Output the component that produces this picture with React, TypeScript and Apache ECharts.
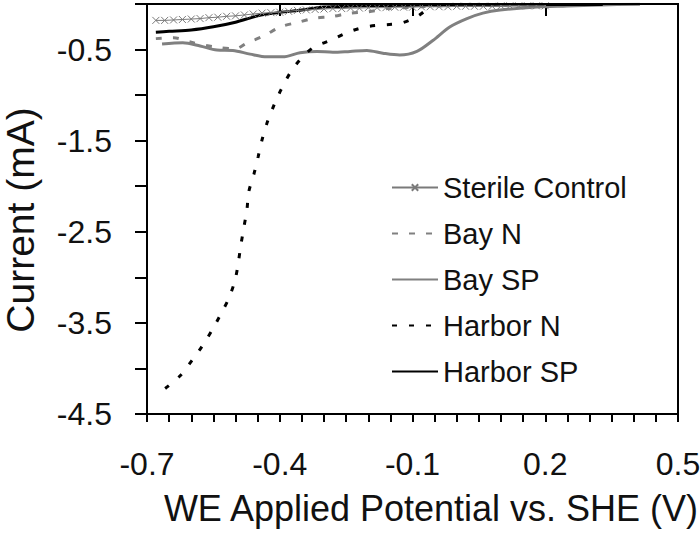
import React, { useEffect, useRef } from "react";
import * as echarts from "echarts";

const seriesNames = ["Sterile Control", "Bay N", "Bay SP", "Harbor N", "Harbor SP"];

const sterileV = [-0.68, -0.66, -0.64, -0.62, -0.6, -0.58, -0.56, -0.54, -0.52, -0.5, -0.48, -0.46, -0.44, -0.42, -0.4, -0.38, -0.36, -0.34, -0.32, -0.3, -0.28, -0.26, -0.24, -0.22, -0.2, -0.18, -0.16, -0.14, -0.12, -0.1, -0.08, -0.06, -0.04, -0.02, 0.0, 0.02, 0.04, 0.06, 0.08, 0.1, 0.12, 0.14, 0.16, 0.18, 0.2];
const sterileI = [-0.18, -0.18, -0.175, -0.17, -0.165, -0.16, -0.15, -0.145, -0.135, -0.13, -0.12, -0.11, -0.1, -0.095, -0.09, -0.08, -0.07, -0.065, -0.06, -0.055, -0.05, -0.05, -0.045, -0.045, -0.04, -0.04, -0.04, -0.035, -0.035, -0.035, -0.03, -0.03, -0.03, -0.03, -0.025, -0.025, -0.025, -0.025, -0.025, -0.02, -0.02, -0.02, -0.02, -0.02, -0.02];

const bayNV = [-0.68, -0.64, -0.6, -0.55, -0.5, -0.475, -0.436, -0.398, -0.358, -0.32, -0.284, -0.24, -0.2, -0.157, -0.12, -0.08, -0.04, 0.0, 0.1, 0.2];
const bayNI = [-0.38, -0.37, -0.42, -0.47, -0.49, -0.43, -0.35, -0.25, -0.2, -0.155, -0.14, -0.1, -0.085, -0.05, -0.04, -0.03, -0.02, -0.012, -0.01, -0.008];

const baySPV = [-0.666, -0.619, -0.58, -0.542, -0.506, -0.467, -0.429, -0.393, -0.354, -0.316, -0.28, -0.241, -0.203, -0.167, -0.129, -0.09, -0.054, -0.015, 0.023, 0.059, 0.098, 0.172, 0.249, 0.324, 0.414];
const baySPI = [-0.44, -0.425, -0.46, -0.505, -0.51, -0.55, -0.58, -0.58, -0.535, -0.52, -0.53, -0.52, -0.51, -0.54, -0.56, -0.52, -0.4, -0.25, -0.16, -0.1, -0.066, -0.036, -0.022, -0.01, -0.002];

const harborNV = [-0.659, -0.625, -0.598, -0.576, -0.553, -0.535, -0.515, -0.501, -0.494, -0.488, -0.481, -0.474, -0.47, -0.458, -0.449, -0.44, -0.429, -0.413, -0.397, -0.377, -0.354, -0.325, -0.286, -0.246, -0.205, -0.167, -0.126, -0.09, -0.054, -0.03];
const harborNI = [-4.22, -4.08, -3.91, -3.76, -3.58, -3.42, -3.23, -3.03, -2.85, -2.65, -2.45, -2.25, -2.06, -1.86, -1.68, -1.49, -1.31, -1.11, -0.94, -0.76, -0.61, -0.48, -0.4, -0.31, -0.25, -0.23, -0.21, -0.14, -0.02, -0.01];

const harborSPV = [-0.68, -0.65, -0.6, -0.55, -0.5, -0.45, -0.4, -0.35, -0.3, -0.25, -0.2, -0.1, 0.0, 0.1, 0.2, 0.33];
const harborSPI = [-0.31, -0.3, -0.285, -0.25, -0.2, -0.13, -0.093, -0.066, -0.033, -0.025, -0.02, -0.015, -0.01, -0.01, -0.005, -0.005];

const xLabelVals = [-0.7, -0.4, -0.1, 0.2, 0.5];
const yLabelVals = [-4.5, -3.5, -2.5, -1.5, -0.5];
const X_MIN = -0.7;
const X_MAX = 0.5;
const Y_MIN = -4.5;
const Y_MAX = 0;

const pair = (xs: number[], ys: number[]) => xs.map((x, i) => [x, ys[i]]);

const FONT = "'Liberation Sans', Arial, sans-serif";
const TXT = "#111";

export default function App() {
  const ref = useRef<HTMLDivElement>(null);
  useEffect(() => {
    if (!ref.current) return;
    const chart = echarts.init(ref.current, undefined, { renderer: "svg" });
    const option = {
      animation: false,
      backgroundColor: "#fff",
      textStyle: { fontFamily: FONT },
      grid: {
        left: 147,
        right: 22,
        top: 4,
        bottom: 129,
        outerBoundsMode: "none",
        containLabel: false,
        show: true,
        borderColor: "#000",
        borderWidth: 2,
        backgroundColor: "rgba(0,0,0,0)",
      },
      legend: {
        orient: "vertical",
        left: 386,
        top: 168,
        itemWidth: 46,
        itemHeight: 8,
        itemGap: 17,
        data: seriesNames.map((n, i) =>
          i === 0 ? { name: n } : { name: n, itemStyle: { opacity: 0 } }
        ),
        textStyle: { fontFamily: FONT, fontSize: 29, color: TXT },
      },
      xAxis: [
        {
          type: "value",
          min: X_MIN,
          max: X_MAX,
          interval: 0.05,
          name: "WE Applied Potential vs. SHE (V)",
          nameLocation: "middle",
          nameGap: 76,
          nameTextStyle: { fontFamily: FONT, fontSize: 36, color: TXT, padding: [0, 0, 0, 37] },
          axisLine: { show: true, onZero: false, lineStyle: { color: "#000", width: 2 } },
          axisTick: { show: true, length: 8, lineStyle: { color: "#000", width: 2 } },
          splitLine: { show: false },
          axisLabel: {
            fontFamily: FONT,
            fontSize: 32,
            color: TXT,
            margin: 34,
            formatter: (v: number) => {
              const hit = xLabelVals.find((t) => Math.abs(t - v) < 1e-6);
              return hit === undefined ? "" : hit.toFixed(1);
            },
          },
        },
        {
          type: "value",
          position: "bottom",
          min: 0,
          max: 1.2,
          interval: 0.3,
          axisLine: { show: false },
          axisTick: { show: true, length: 12, lineStyle: { color: "#000", width: 2 } },
          axisLabel: { show: false },
          splitLine: { show: false },
        },
      ],
      yAxis: {
        type: "value",
        min: Y_MIN,
        max: Y_MAX,
        interval: 0.5,
        name: "Current (mA)",
        nameLocation: "middle",
        nameGap: 107,
        nameRotate: 90,
        nameTextStyle: { fontFamily: FONT, fontSize: 39, color: TXT, padding: [0, 22, 0, 0] },
        axisLine: { show: true, onZero: false, lineStyle: { color: "#000", width: 2 } },
        axisTick: { show: true, length: 12, lineStyle: { color: "#000", width: 2 } },
        splitLine: { show: false },
        axisLabel: {
          fontFamily: FONT,
          fontSize: 32,
          color: TXT,
          margin: 35,
          formatter: (v: number) => {
            const hit = yLabelVals.find((t) => Math.abs(t - v) < 1e-6);
            return hit === undefined ? "" : hit.toFixed(1);
          },
        },
      },
      series: [
        {
          name: "Sterile Control",
          type: "line",
          data: pair(sterileV, sterileI),
          symbol: "path://M0,0L10,10M10,0L0,10",
          symbolSize: 7,
          showSymbol: true,
          itemStyle: { color: "#7a7a7a", borderColor: "#7a7a7a", borderWidth: 1 },
          lineStyle: { color: "#7a7a7a", width: 1 },
          z: 5,
        },
        {
          name: "Bay N",
          type: "line",
          data: pair(bayNV, bayNI),
          symbol: "none",
          smooth: 0.3,
          itemStyle: { color: "#808080" },
          lineStyle: { color: "#808080", width: 3, type: [6, 11] },
        },
        {
          name: "Bay SP",
          type: "line",
          data: pair(baySPV, baySPI),
          symbol: "none",
          smooth: 0.3,
          itemStyle: { color: "#808080" },
          lineStyle: { color: "#808080", width: 3 },
        },
        {
          name: "Harbor N",
          type: "line",
          data: pair(harborNV, harborNI),
          symbol: "none",
          smooth: 0.3,
          itemStyle: { color: "#000" },
          lineStyle: { color: "#000", width: 3, type: [5, 12] },
        },
        {
          name: "Harbor SP",
          type: "line",
          data: pair(harborSPV, harborSPI),
          symbol: "none",
          smooth: 0.3,
          itemStyle: { color: "#000" },
          lineStyle: { color: "#000", width: 3 },
        },
      ],
    };
    chart.setOption(option as any);
    const p0 = chart.convertToPixel({ xAxisIndex: 0, yAxisIndex: 0 }, [X_MIN, Y_MAX]) as number[];
    const p1 = chart.convertToPixel({ xAxisIndex: 0, yAxisIndex: 0 }, [X_MAX, Y_MIN]) as number[];
    if (p0 && p1) {
      chart.setOption({
        graphic: [
          {
            type: "rect",
            silent: true,
            z: 50,
            shape: { x: p0[0], y: p0[1], width: p1[0] - p0[0], height: p1[1] - p0[1] },
            style: { fill: "none", stroke: "#000", lineWidth: 2 },
          },
        ],
      });
    }
    return () => chart.dispose();
  }, []);
  return <div ref={ref} style={{ width: 700, height: 543, position: "absolute", left: 0, top: 0 }} />;
}
